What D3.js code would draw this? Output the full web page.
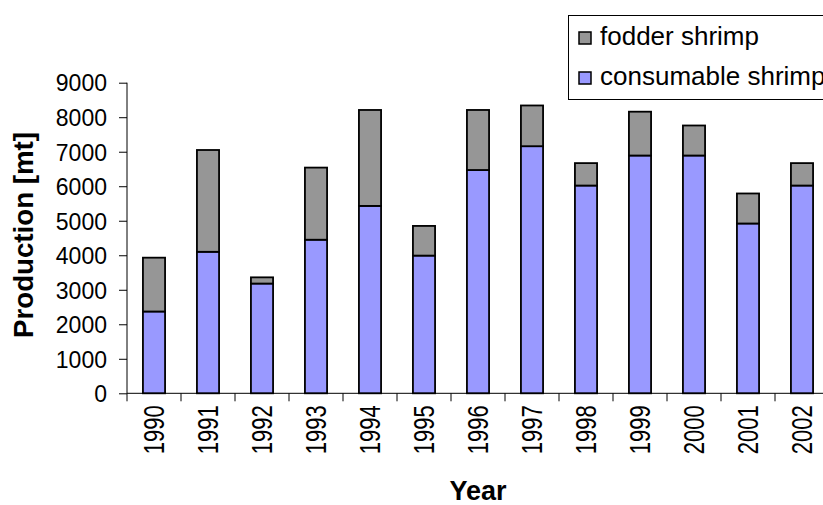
<!DOCTYPE html>
<html>
<head>
<meta charset="utf-8">
<script src="https://cdn.jsdelivr.net/npm/d3@7"></script>
<style>
  body { margin: 0; background: #fff; }
  svg { display: block; font-family: "Liberation Sans", Arial, sans-serif; }
</style>
</head>
<body>
<svg width="823" height="505"></svg>
<script>
// data
var years = ["1990","1991","1992","1993","1994","1995","1996","1997","1998","1999","2000","2001","2002"];
var consumable = [2370, 4100, 3180, 4450, 5430, 3990, 6470, 7160, 6020, 6890, 6890, 4920, 6020];
var fodder =     [1560, 2950,  180, 2090, 2780,  860, 1740, 1180,  650, 1270,  870,  870,  650];
var yTicks = [0,1000,2000,3000,4000,5000,6000,7000,8000,9000];
var seriesNames = ["consumable shrimp", "fodder shrimp"];
var colors = {"consumable shrimp": "#9999ff", "fodder shrimp": "#969696"};

var svg = d3.select("svg");

var mLeft = 127, mRight = 829, mTop = 82.7, mBottom = 393.3;

var x = d3.scaleBand().domain(years).range([mLeft, mRight]).paddingInner(0.59).paddingOuter(0.295);
var y = d3.scaleLinear().domain([0, 9000]).range([mBottom, mTop]);

var rows = years.map(function (yr, i) {
  return {year: yr, "consumable shrimp": consumable[i], "fodder shrimp": fodder[i]};
});
var stacked = d3.stack().keys(seriesNames)(rows);

// bars
svg.append("g").selectAll("g")
  .data(stacked).enter().append("g")
  .attr("fill", function (d) { return colors[d.key]; })
  .selectAll("rect")
  .data(function (d) { return d; }).enter().append("rect")
  .attr("x", function (d) { return x(d.data.year); })
  .attr("width", x.bandwidth())
  .attr("y", function (d) { return y(d[1]); })
  .attr("height", function (d) { return y(d[0]) - y(d[1]); })
  .attr("stroke", "#000").attr("stroke-width", 1.8);

// y axis
var yAxis = svg.append("g")
  .attr("transform", "translate(" + mLeft + ",0)")
  .call(d3.axisLeft(y).tickValues(yTicks).tickSize(8).tickPadding(12).tickFormat(d3.format("d")));
yAxis.selectAll("text").attr("font-size", 23).attr("fill", "#000")
  .attr("font-family", "Liberation Sans, Arial, sans-serif").attr("dy", "0.36em");
yAxis.selectAll("line,path").attr("stroke", "#000");
yAxis.select(".domain").attr("d", "M0," + mTop + "V" + mBottom);

// x axis: ticks between categories
var xg = svg.append("g").attr("transform", "translate(0," + mBottom + ")");
xg.append("line").attr("x1", mLeft).attr("x2", mRight).attr("stroke", "#000");
var step = x.step();
xg.selectAll("line.tk").data(d3.range(years.length + 1)).enter().append("line")
  .attr("class", "tk")
  .attr("x1", function (i) { return mLeft + i * step; })
  .attr("x2", function (i) { return mLeft + i * step; })
  .attr("y1", 0).attr("y2", 8).attr("stroke", "#000");
xg.selectAll("text").data(years).enter().append("text")
  .attr("transform", function (d) {
    return "translate(" + (x(d) + x.bandwidth() / 2 + 10) + ",12) rotate(-90) scale(1,1.3)";
  })
  .attr("text-anchor", "end")
  .attr("font-size", 22)
  .text(function (d) { return d; });

// axis titles
svg.append("text")
  .attr("x", 478).attr("y", 500)
  .attr("text-anchor", "middle")
  .attr("font-size", 27).attr("font-weight", "bold")
  .text("Year");
svg.append("text")
  .attr("transform", "translate(33,235) rotate(-90)")
  .attr("text-anchor", "middle")
  .attr("font-size", 28).attr("font-weight", "bold")
  .attr("textLength", 206).attr("lengthAdjust", "spacingAndGlyphs")
  .text("Production [mt]");

// legend
var lg = svg.append("g");
lg.append("rect").attr("x", 568.5).attr("y", 15.5).attr("width", 280).attr("height", 84)
  .attr("fill", "#fff").attr("stroke", "#000");
var legendItems = ["fodder shrimp", "consumable shrimp"];
legendItems.forEach(function (k, i) {
  lg.append("rect").attr("x", 579).attr("y", 32 + i * 40).attr("width", 12).attr("height", 12)
    .attr("fill", colors[k]).attr("stroke", "#000").attr("stroke-width", 1.5);
  lg.append("text").attr("x", 600).attr("y", 45 + i * 40)
    .attr("font-size", 26).text(k);
});
</script>
</body>
</html>
